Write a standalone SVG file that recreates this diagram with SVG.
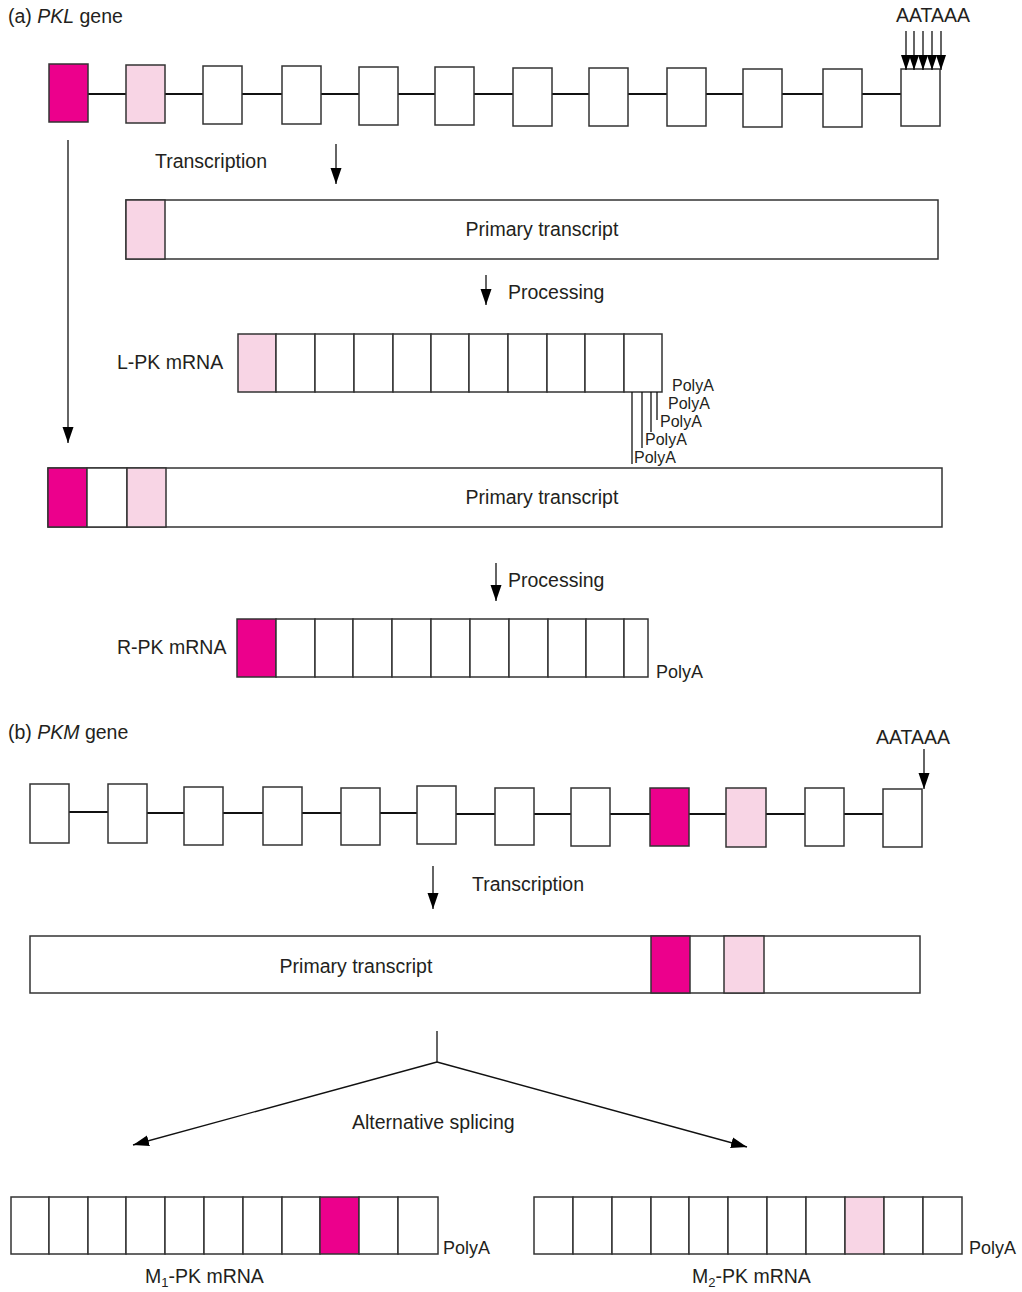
<svg xmlns="http://www.w3.org/2000/svg" width="1022" height="1292" viewBox="0 0 1022 1292">
<defs>
<style>
text{font-family:"Liberation Sans",Arial,sans-serif;font-size:19.5px;fill:#231f20}
text.pa{font-size:18px}
text.pa5{font-size:16px}
.ex{fill:#fff;stroke:#333;stroke-width:1.5}
.m{fill:#ec008c}
.p{fill:#f8d5e5}
.in{stroke:#111;stroke-width:2;fill:none}
.c{stroke:#111;stroke-width:1.3;fill:none}
</style>
<marker id="ah" markerUnits="userSpaceOnUse" markerWidth="16" markerHeight="12" refX="16" refY="6" orient="auto" viewBox="0 0 16 12"><path d="M0,0.5 L16,6 L0,11.5 z" fill="#000"/></marker>
<marker id="ahs" markerUnits="userSpaceOnUse" markerWidth="15" markerHeight="10" refX="15" refY="5" orient="auto" viewBox="0 0 15 10"><path d="M0,0 L15,5 L0,10 z" fill="#000"/></marker>
</defs>
<rect width="1022" height="1292" fill="#fff"/>

<g id="pkl-gene">
<text x="8" y="23">(a) <tspan font-style="italic">PKL</tspan> gene</text>
<g class="in">
<line x1="88" y1="94" x2="126" y2="94"/><line x1="165" y1="94" x2="203" y2="94"/><line x1="242" y1="94" x2="282" y2="94"/><line x1="321" y1="94" x2="359" y2="94"/><line x1="398" y1="94" x2="435" y2="94"/><line x1="474" y1="94" x2="513" y2="94"/><line x1="552" y1="94" x2="589" y2="94"/><line x1="628" y1="94" x2="667" y2="94"/><line x1="706" y1="94" x2="743" y2="94"/><line x1="782" y1="94" x2="823" y2="94"/><line x1="862" y1="94" x2="901" y2="94"/>
</g>
<rect class="ex m" x="49" y="64" width="39" height="58"/>
<rect class="ex p" x="126" y="65" width="39" height="58"/>
<rect class="ex" x="203" y="66" width="39" height="58"/>
<rect class="ex" x="282" y="66" width="39" height="58"/>
<rect class="ex" x="359" y="67" width="39" height="58"/>
<rect class="ex" x="435" y="67" width="39" height="58"/>
<rect class="ex" x="513" y="68" width="39" height="58"/>
<rect class="ex" x="589" y="68" width="39" height="58"/>
<rect class="ex" x="667" y="68" width="39" height="58"/>
<rect class="ex" x="743" y="69" width="39" height="58"/>
<rect class="ex" x="823" y="69" width="39" height="58"/>
<rect class="ex" x="901" y="69" width="39" height="57"/>
<text x="896" y="22">AATAAA</text>
</g>

<g id="pkl-primary-transcript">
<rect class="ex" x="126" y="200" width="812" height="59"/>
<rect class="ex p" x="126" y="200" width="39" height="59"/>
<text x="542" y="236" text-anchor="middle">Primary transcript</text>
</g>

<g id="lpk-mrna">
<text x="117" y="369">L-PK mRNA</text>
<rect class="ex p" x="238" y="334" width="38" height="58"/>
<rect class="ex" x="276" y="334" width="39" height="58"/>
<rect class="ex" x="315" y="334" width="39" height="58"/>
<rect class="ex" x="354" y="334" width="39" height="58"/>
<rect class="ex" x="393" y="334" width="38" height="58"/>
<rect class="ex" x="431" y="334" width="38" height="58"/>
<rect class="ex" x="469" y="334" width="39" height="58"/>
<rect class="ex" x="508" y="334" width="39" height="58"/>
<rect class="ex" x="547" y="334" width="38" height="58"/>
<rect class="ex" x="585" y="334" width="39" height="58"/>
<rect class="ex" x="624" y="334" width="38" height="58"/>
<text class="pa5" x="672" y="391">PolyA</text>
<text class="pa5" x="668" y="409">PolyA</text>
<text class="pa5" x="660" y="427">PolyA</text>
<text class="pa5" x="645" y="445">PolyA</text>
<text class="pa5" x="634" y="463">PolyA</text>
<g class="c">
<line x1="657" y1="392" x2="657" y2="420"/>
<line x1="651" y1="392" x2="651" y2="432"/>
<line x1="642" y1="392" x2="642" y2="448"/>
<line x1="632" y1="392" x2="632" y2="464"/>
</g>
</g>

<g id="pkl-primary-transcript-2">
<rect class="ex" x="48" y="468" width="894" height="59"/>
<rect class="ex m" x="48" y="468" width="39" height="59"/>
<rect class="ex" x="87" y="468" width="40" height="59"/>
<rect class="ex p" x="127" y="468" width="39" height="59"/>
<text x="542" y="504" text-anchor="middle">Primary transcript</text>
</g>

<g id="rpk-mrna">
<text x="117" y="654">R-PK mRNA</text>
<rect class="ex m" x="237" y="619" width="39" height="58"/>
<rect class="ex" x="276" y="619" width="39" height="58"/>
<rect class="ex" x="315" y="619" width="38" height="58"/>
<rect class="ex" x="353" y="619" width="39" height="58"/>
<rect class="ex" x="392" y="619" width="39" height="58"/>
<rect class="ex" x="431" y="619" width="39" height="58"/>
<rect class="ex" x="470" y="619" width="39" height="58"/>
<rect class="ex" x="509" y="619" width="39" height="58"/>
<rect class="ex" x="548" y="619" width="38" height="58"/>
<rect class="ex" x="586" y="619" width="38" height="58"/>
<rect class="ex" x="624" y="619" width="24" height="58"/>
<text class="pa" x="656" y="678">PolyA</text>
</g>

<g id="pkm-gene">
<text x="8" y="739">(b) <tspan font-style="italic">PKM</tspan> gene</text>
<g class="in">
<line x1="69" y1="812" x2="108" y2="812"/><line x1="147" y1="813" x2="184" y2="813"/><line x1="223" y1="813" x2="263" y2="813"/><line x1="302" y1="813" x2="341" y2="813"/><line x1="380" y1="813" x2="417" y2="813"/><line x1="456" y1="814" x2="495" y2="814"/><line x1="534" y1="814" x2="571" y2="814"/><line x1="610" y1="814" x2="650" y2="814"/><line x1="689" y1="814" x2="726" y2="814"/><line x1="766" y1="814" x2="805" y2="814"/><line x1="844" y1="814" x2="883" y2="814"/>
</g>
<rect class="ex" x="30" y="784" width="39" height="59"/>
<rect class="ex" x="108" y="784" width="39" height="59"/>
<rect class="ex" x="184" y="787" width="39" height="58"/>
<rect class="ex" x="263" y="787" width="39" height="58"/>
<rect class="ex" x="341" y="788" width="39" height="57"/>
<rect class="ex" x="417" y="786" width="39" height="58"/>
<rect class="ex" x="495" y="788" width="39" height="57"/>
<rect class="ex" x="571" y="788" width="39" height="58"/>
<rect class="ex m" x="650" y="788" width="39" height="58"/>
<rect class="ex p" x="726" y="788" width="40" height="59"/>
<rect class="ex" x="805" y="788" width="39" height="58"/>
<rect class="ex" x="883" y="789" width="39" height="58"/>
<text x="876" y="744">AATAAA</text>
</g>

<g id="pkm-primary-transcript">
<rect class="ex" x="30" y="936" width="890" height="57"/>
<rect class="ex m" x="651" y="936" width="39" height="57"/>
<rect class="ex p" x="724" y="936" width="40" height="57"/>
<text x="356" y="973" text-anchor="middle">Primary transcript</text>
</g>

<g id="m1-pk-mrna">
<rect class="ex" x="11" y="1197" width="38" height="57"/>
<rect class="ex" x="49" y="1197" width="39" height="57"/>
<rect class="ex" x="88" y="1197" width="38" height="57"/>
<rect class="ex" x="126" y="1197" width="39" height="57"/>
<rect class="ex" x="165" y="1197" width="39" height="57"/>
<rect class="ex" x="204" y="1197" width="39" height="57"/>
<rect class="ex" x="243" y="1197" width="39" height="57"/>
<rect class="ex" x="282" y="1197" width="38" height="57"/>
<rect class="ex m" x="320" y="1197" width="39" height="57"/>
<rect class="ex" x="359" y="1197" width="39" height="57"/>
<rect class="ex" x="398" y="1197" width="40" height="57"/>
<text class="pa" x="443" y="1254">PolyA</text>
<text x="145" y="1283">M<tspan font-size="13" dy="4">1</tspan><tspan dy="-4">-PK mRNA</tspan></text>
</g>

<g id="m2-pk-mrna">
<rect class="ex" x="534" y="1197" width="39" height="57"/>
<rect class="ex" x="573" y="1197" width="39" height="57"/>
<rect class="ex" x="612" y="1197" width="39" height="57"/>
<rect class="ex" x="651" y="1197" width="38" height="57"/>
<rect class="ex" x="689" y="1197" width="39" height="57"/>
<rect class="ex" x="728" y="1197" width="39" height="57"/>
<rect class="ex" x="767" y="1197" width="39" height="57"/>
<rect class="ex" x="806" y="1197" width="39" height="57"/>
<rect class="ex p" x="845" y="1197" width="39" height="57"/>
<rect class="ex" x="884" y="1197" width="39" height="57"/>
<rect class="ex" x="923" y="1197" width="39" height="57"/>
<text class="pa" x="969" y="1254">PolyA</text>
<text x="692" y="1283">M<tspan font-size="13" dy="4">2</tspan><tspan dy="-4">-PK mRNA</tspan></text>
</g>

<g id="connectors">
<g class="c">
<line x1="906" y1="31" x2="906" y2="70" marker-end="url(#ahs)"/>
<line x1="914" y1="31" x2="914" y2="70" marker-end="url(#ahs)"/>
<line x1="923" y1="31" x2="923" y2="70" marker-end="url(#ahs)"/>
<line x1="932" y1="31" x2="932" y2="70" marker-end="url(#ahs)"/>
<line x1="941" y1="31" x2="941" y2="70" marker-end="url(#ahs)"/>
<line x1="68" y1="140" x2="68" y2="443" marker-end="url(#ah)"/>
<line x1="336" y1="144" x2="336" y2="184" marker-end="url(#ah)"/>
<line x1="486" y1="275" x2="486" y2="305" marker-end="url(#ah)"/>
<line x1="496" y1="563" x2="496" y2="601" marker-end="url(#ah)"/>
<line x1="924" y1="749" x2="924" y2="789" marker-end="url(#ah)"/>
<line x1="433" y1="866" x2="433" y2="909" marker-end="url(#ah)"/>
<line x1="437" y1="1031" x2="437" y2="1062"/>
<line x1="437" y1="1062" x2="133" y2="1145" marker-end="url(#ah)"/>
<line x1="437" y1="1062" x2="747" y2="1147" marker-end="url(#ah)"/>
</g>
<text x="155" y="168">Transcription</text>
<text x="508" y="299">Processing</text>
<text x="508" y="587">Processing</text>
<text x="472" y="891">Transcription</text>
<text x="352" y="1129">Alternative splicing</text>
</g>
</svg>
